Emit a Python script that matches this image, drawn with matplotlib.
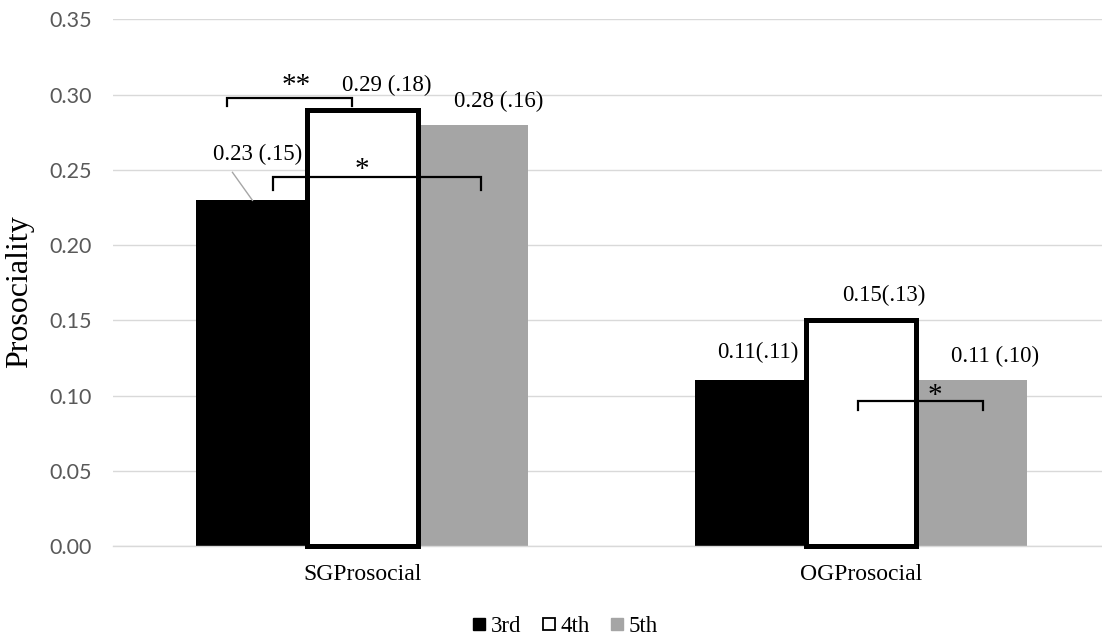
import matplotlib
matplotlib.use("Agg")
import matplotlib.pyplot as plt
from matplotlib.lines import Line2D
import numpy as np

# ---- data ----
categories = ["SGProsocial", "OGProsocial"]
grades = ["3rd", "4th", "5th"]
mean_3rd = [0.23, 0.11]
mean_4th = [0.29, 0.15]
mean_5th = [0.28, 0.11]
sd_3rd = [".15", ".11"]
sd_4th = [".18", ".13"]
sd_5th = [".16", ".10"]
yticks = [0.00, 0.05, 0.10, 0.15, 0.20, 0.25, 0.30, 0.35]

SERIF = "Liberation Serif"
SANS = "Lato"

fig = plt.figure(figsize=(11.02, 6.39), dpi=100)
ax = fig.add_axes([113/1102, 1-546/639, 1-113/1102, (546-19.3)/639])

x = np.arange(len(categories))
w = 0.2218

ax.bar(x - w, mean_3rd, w, color="black", zorder=2)
ax.bar(x, mean_4th, w, color="white", edgecolor="black", linewidth=3.6, zorder=3, clip_on=False)
ax.bar(x + w, mean_5th, w, color="#a5a5a5", zorder=2)

ax.set_xlim(-0.5, 1.483)
ax.set_ylim(0, 0.35)
ax.set_yticks(yticks)
ax.set_yticklabels([f"{v:.2f}" for v in yticks], fontfamily=SANS, fontsize=15.5, color="#595959")
ax.set_xticks(x)
ax.set_xticklabels(categories, fontfamily=SERIF, fontsize=17, color="black")
ax.tick_params(axis="both", length=0)
ax.tick_params(axis="y", pad=15)
ax.tick_params(axis="x", pad=13)
ax.yaxis.grid(True, color="#d9d9d9", linewidth=1.0, zorder=0)
ax.set_axisbelow(True)
for s in ["top", "right", "left"]:
    ax.spines[s].set_visible(False)
ax.spines["bottom"].set_color("#d9d9d9")
ax.spines["bottom"].set_linewidth(1.0)
ax.spines["bottom"].set_zorder(2.5)

fig.text(20/1102, 1-292/639, "Prosociality", rotation=90, ha="center", va="center",
         fontfamily=SERIF, fontsize=23)

# value labels (mean (sd))
fs = 16.5
lab_pos = {
    (0, 0): (-0.210, 0.260, " "),
    (0, 1): (0.049, 0.306, " "),
    (0, 2): (0.2735, 0.2955, " "),
    (1, 0): (0.7926, 0.1288, ""),
    (1, 1): (1.046, 0.1667, ""),
    (1, 2): (1.2695, 0.1262, " "),
}
means_all = [mean_3rd, mean_4th, mean_5th]
sds_all = [sd_3rd, sd_4th, sd_5th]
for ci in range(len(categories)):
    for gi in range(3):
        px, py, sep = lab_pos[(ci, gi)]
        ax.text(px, py, f"{means_all[gi][ci]:.2f}{sep}({sds_all[gi][ci]})", ha="center", va="center",
                fontfamily=SERIF, fontsize=fs, zorder=5)

# leader line for 0.23 label
ax.plot([-0.2605, -0.2204], [0.2483, 0.2297], color="#a6a6a6", lw=1.0, zorder=4)

# significance brackets
def bracket(x0, x1, y, ytick, label, lx, ly):
    ax.plot([x0, x0, x1, x1], [ytick, y, y, ytick], color="black", lw=1.6, zorder=6,
            solid_joinstyle="miter")
    ax.text(lx, ly, label, ha="center", va="center", fontfamily=SERIF, fontsize=21, zorder=6)

bracket(-0.2705, -0.020, 0.2975, 0.2922, "**", -0.132, 0.306)
bracket(-0.180, 0.2385, 0.245, 0.2364, "*", 0.0, 0.250)
bracket(0.994, 1.2445, 0.0963, 0.0903, "*", 1.148, 0.100)

# legend
handles = [
    Line2D([], [], marker="s", linestyle="none", markersize=8.5, markerfacecolor="black", markeredgecolor="black"),
    Line2D([], [], marker="s", linestyle="none", markersize=8.5, markerfacecolor="white", markeredgecolor="black", markeredgewidth=1.3),
    Line2D([], [], marker="s", linestyle="none", markersize=8.5, markerfacecolor="#a5a5a5", markeredgecolor="#a5a5a5"),
]
fig.legend(handles, grades, loc="center", bbox_to_anchor=(565/1102, 1-626/639), ncol=3,
           frameon=False, prop={"family": SERIF, "size": 16.5}, handlelength=0.6,
           handletextpad=0.2, columnspacing=0.9, borderpad=0)

fig.savefig("out.png", dpi=100)
